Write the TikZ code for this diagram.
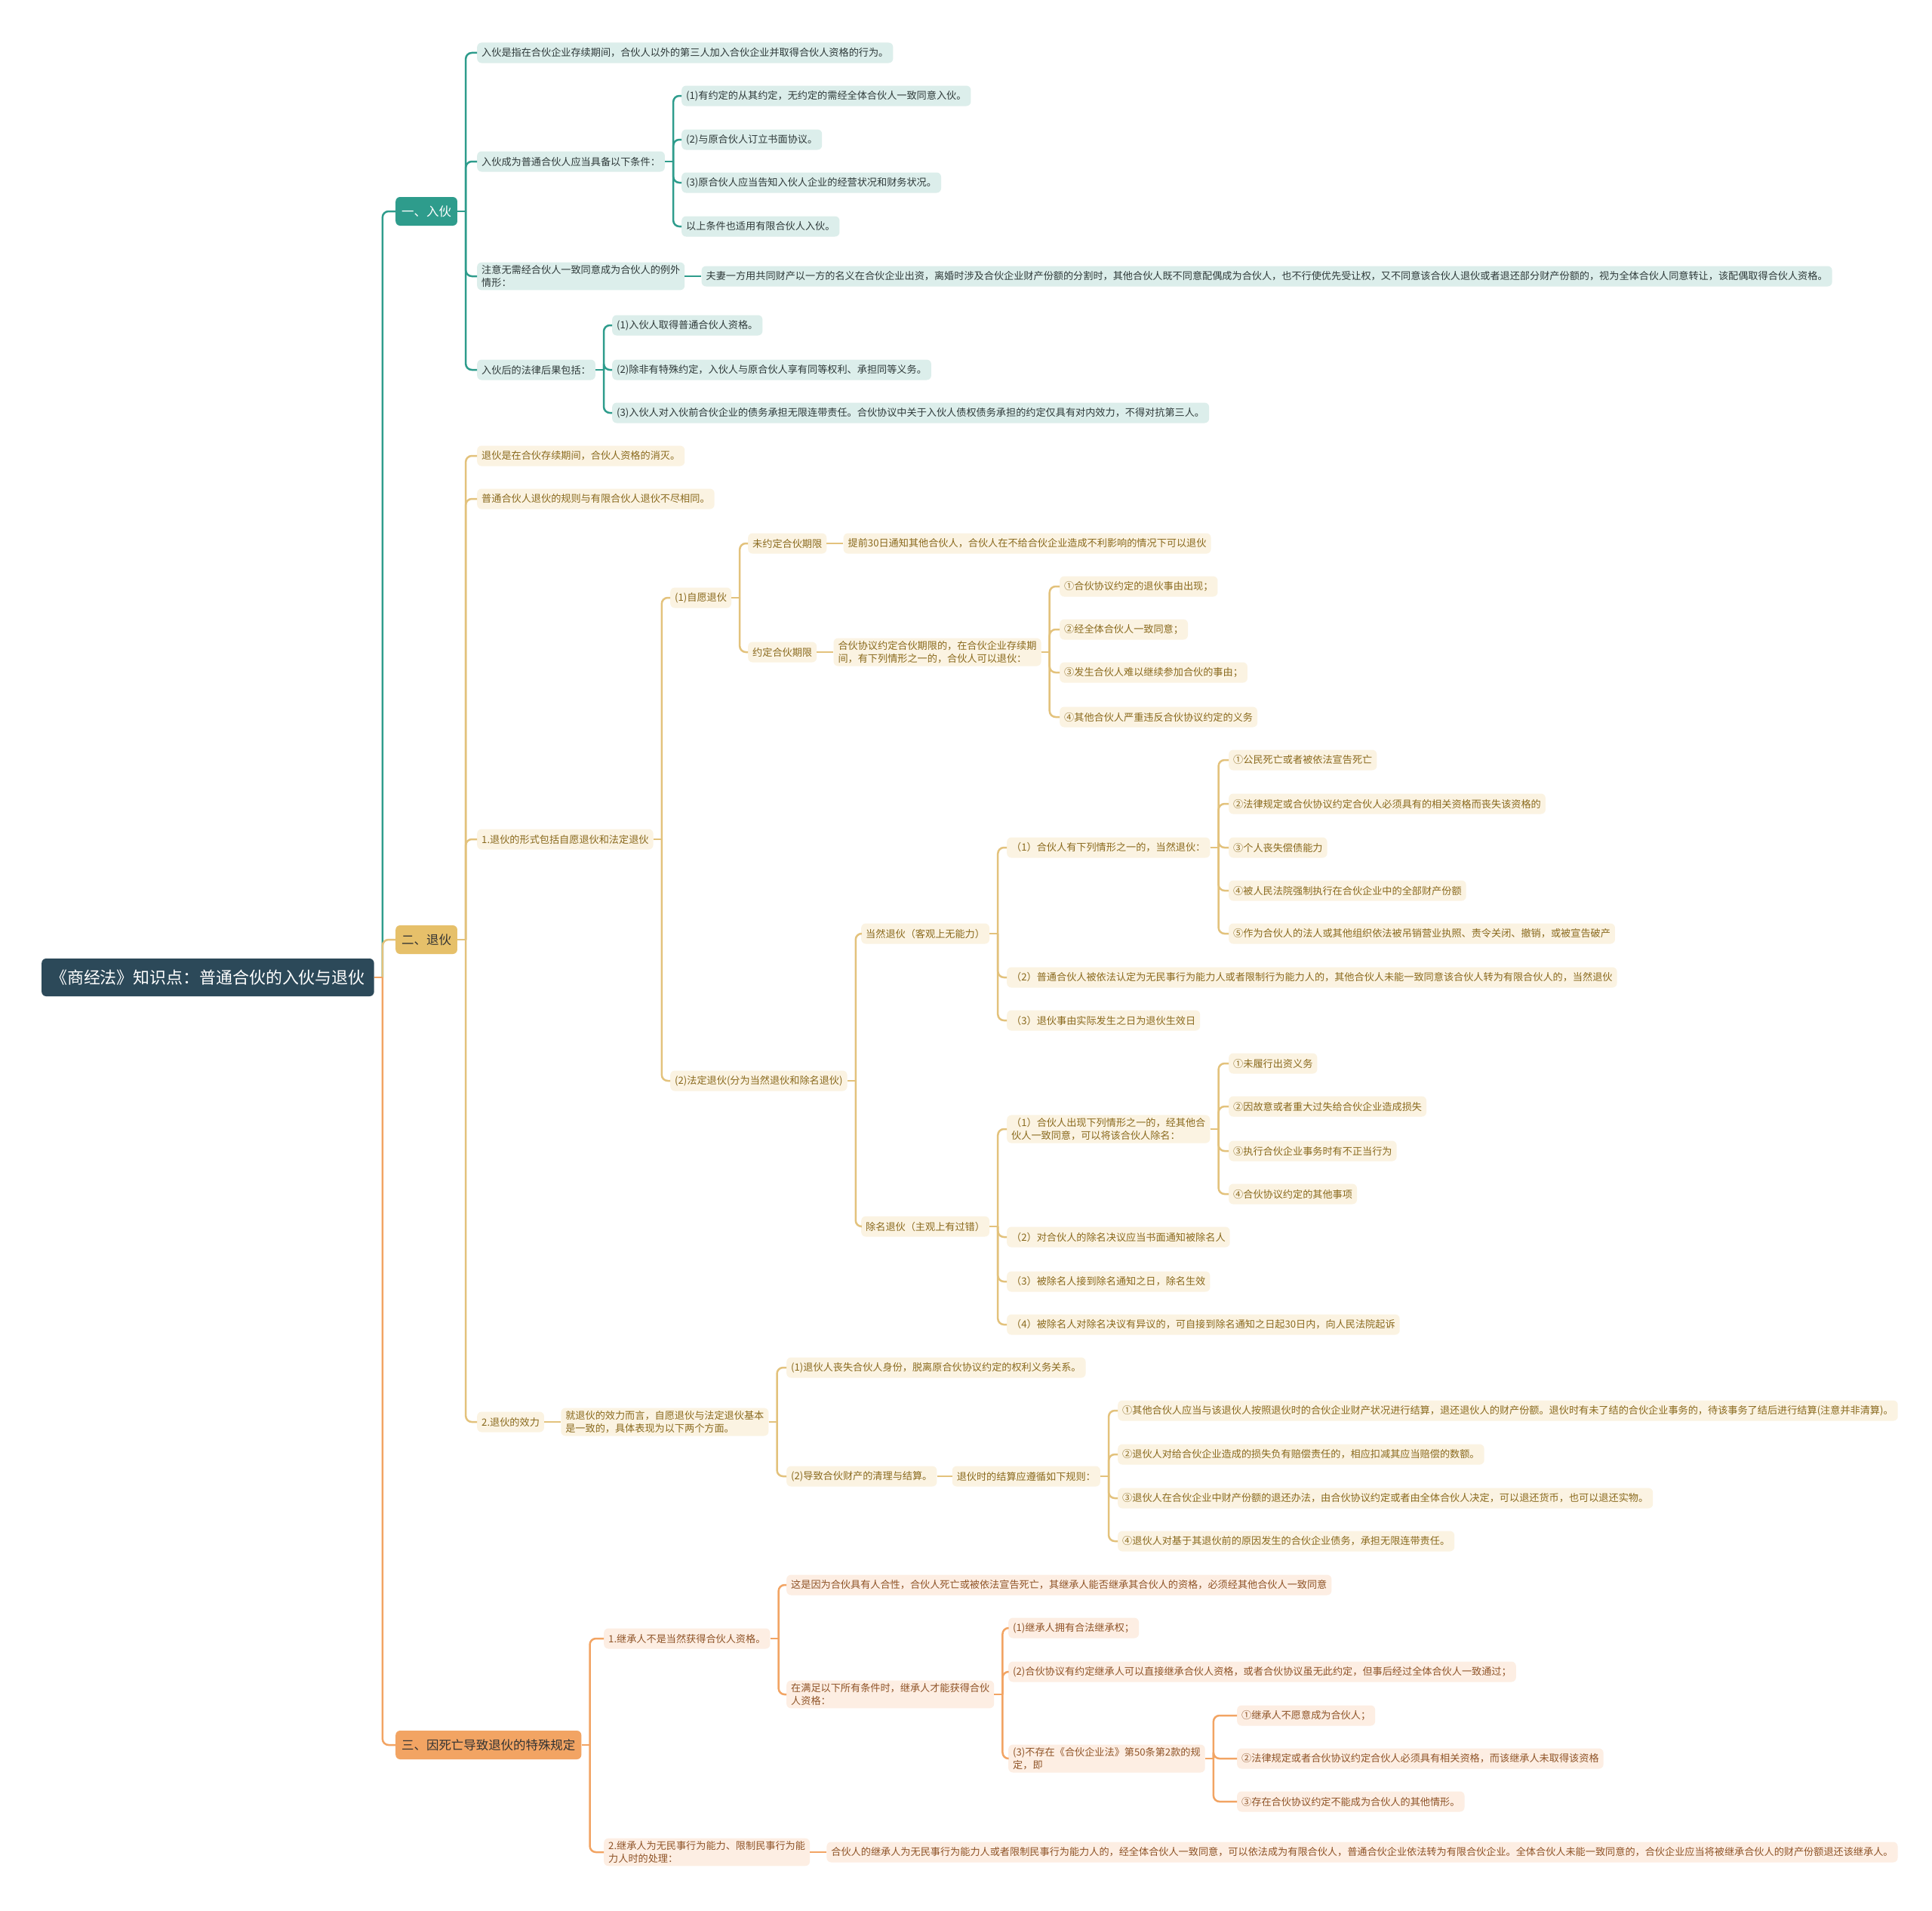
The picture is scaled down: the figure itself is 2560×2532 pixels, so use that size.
\documentclass[tikz,border=0pt]{standalone}
\usepackage{fontspec}
\newfontfamily\cjk{Noto Sans CJK SC}
\usetikzlibrary{positioning}
\definecolor{teal1}{HTML}{2E9C8C}
\definecolor{tealL}{HTML}{DCEEEB}
\definecolor{tealT}{HTML}{2F3A3A}
\definecolor{gold1}{HTML}{E6C06A}
\definecolor{goldLn}{HTML}{E3C27C}
\definecolor{goldL}{HTML}{FBF3E2}
\definecolor{goldT}{HTML}{8A6A1E}
\definecolor{org1}{HTML}{F2A463}
\definecolor{orgL}{HTML}{FDEEE3}
\definecolor{orgT}{HTML}{8F5428}
\definecolor{rootc}{HTML}{2C4959}
\tikzset{
 base/.style={font=\cjk\fontsize{13.2}{16.5}\selectfont, rounded corners=6bp, inner xsep=6bp, inner ysep=4bp, minimum height=27bp, anchor=west, align=left},
 tn/.style={base, fill=tealL, text=tealT},
 gn/.style={base, fill=goldL, text=goldT},
 on/.style={base, fill=orgL, text=orgT},
 lone/.style={font=\cjk\fontsize{16.5}{20}\selectfont, rounded corners=6bp, inner xsep=8bp, minimum height=38bp, anchor=west},
 rootbox/.style={font=\cjk\fontsize{22}{26}\selectfont, rounded corners=6bp, inner xsep=12bp, minimum height=50bp, anchor=west, fill=rootc, text=white},
 tl/.style={line width=2.5bp, draw=teal1},
 gl/.style={line width=2.5bp, draw=goldLn},
 ol/.style={line width=2.5bp, draw=org1},
}
\newcommand\lnk[3]{\foreach \c in {#3}{\draw[#1] (#2.east) -- ++(11bp,0) coordinate (tmp); \draw[#1,rounded corners=8bp] (tmp) |- (\c.west);}}
\begin{document}
\begin{tikzpicture}[x=1bp,y=-1bp]
\fill[white] (0,0) rectangle (2560,2532);
\useasboundingbox (0,0) rectangle (2560,2532);
% root and level 1
\node[rootbox] (root) at (55,1295) {《商经法》知识点：普通合伙的入伙与退伙};
\node[lone, fill=teal1, text=white] (n1) at (524,280) {一、入伙};
\node[lone, fill=gold1, text=black!80] (n2) at (524,1245) {二、退伙};
\node[lone, fill=org1, text=black!80] (n3) at (524,2312) {三、因死亡导致退伙的特殊规定};
% section 1
\node[tn] (a1) at (632,70) {入伙是指在合伙企业存续期间，合伙人以外的第三人加入合伙企业并取得合伙人资格的行为。};
\node[tn] (a2) at (632,214) {入伙成为普通合伙人应当具备以下条件：};
\node[tn] (a21) at (903,127) {(1)有约定的从其约定，无约定的需经全体合伙人一致同意入伙。};
\node[tn] (a22) at (903,185) {(2)与原合伙人订立书面协议。};
\node[tn] (a23) at (903,242) {(3)原合伙人应当告知入伙人企业的经营状况和财务状况。};
\node[tn] (a24) at (903,300) {以上条件也适用有限合伙人入伙。};
\node[tn] (a3) at (632,366) {注意无需经合伙人一致同意成为合伙人的例外\\情形：};
\node[tn, right=22bp of a3] (a31) {夫妻一方用共同财产以一方的名义在合伙企业出资，离婚时涉及合伙企业财产份额的分割时，其他合伙人既不同意配偶成为合伙人，也不行使优先受让权，又不同意该合伙人退伙或者退还部分财产份额的，视为全体合伙人同意转让，该配偶取得合伙人资格。};
\node[tn] (a4) at (632,490) {入伙后的法律后果包括：};
\node[tn] (a41) at (811,431) {(1)入伙人取得普通合伙人资格。};
\node[tn] (a42) at (811,490) {(2)除非有特殊约定，入伙人与原合伙人享有同等权利、承担同等义务。};
\node[tn] (a43) at (811,547) {(3)入伙人对入伙前合伙企业的债务承担无限连带责任。合伙协议中关于入伙人债权债务承担的约定仅具有对内效力，不得对抗第三人。};
% section 2
\node[gn] (b1) at (632,604) {退伙是在合伙存续期间，合伙人资格的消灭。};
\node[gn] (b2) at (632,661) {普通合伙人退伙的规则与有限合伙人退伙不尽相同。};
\node[gn] (b3) at (632,1112) {1.退伙的形式包括自愿退伙和法定退伙};
\node[gn] (b31) at (888,792) {(1)自愿退伙};
\node[gn] (b311) at (991,720) {未约定合伙期限};
\node[gn, right=22bp of b311] (b3111) {提前30日通知其他合伙人，合伙人在不给合伙企业造成不利影响的情况下可以退伙};
\node[gn] (b312) at (991,864) {约定合伙期限};
\node[gn, right=22bp of b312] (b3121) {合伙协议约定合伙期限的，在合伙企业存续期\\间，有下列情形之一的，合伙人可以退伙：};
\node[gn] (c1) at (1404,777) {①合伙协议约定的退伙事由出现；};
\node[gn] (c2) at (1404,834) {②经全体合伙人一致同意；};
\node[gn] (c3) at (1404,891) {③发生合伙人难以继续参加合伙的事由；};
\node[gn] (c4) at (1404,950) {④其他合伙人严重违反合伙协议约定的义务};
\node[gn] (b32) at (888,1432) {(2)法定退伙(分为当然退伙和除名退伙)};
\node[gn] (d1) at (1141,1237) {当然退伙（客观上无能力）};
\node[gn] (d11) at (1334,1123) {（1）合伙人有下列情形之一的，当然退伙：};
\node[gn] (e1) at (1628,1007) {①公民死亡或者被依法宣告死亡};
\node[gn] (e2) at (1628,1065) {②法律规定或合伙协议约定合伙人必须具有的相关资格而丧失该资格的};
\node[gn] (e3) at (1628,1123) {③个人丧失偿债能力};
\node[gn] (e4) at (1628,1180) {④被人民法院强制执行在合伙企业中的全部财产份额};
\node[gn] (e5) at (1628,1237) {⑤作为合伙人的法人或其他组织依法被吊销营业执照、责令关闭、撤销，或被宣告破产};
\node[gn] (d12) at (1334,1295) {（2）普通合伙人被依法认定为无民事行为能力人或者限制行为能力人的，其他合伙人未能一致同意该合伙人转为有限合伙人的，当然退伙};
\node[gn] (d13) at (1334,1352) {（3）退伙事由实际发生之日为退伙生效日};
\node[gn] (d2) at (1141,1625) {除名退伙（主观上有过错）};
\node[gn] (d21) at (1334,1496) {（1）合伙人出现下列情形之一的，经其他合\\伙人一致同意，可以将该合伙人除名：};
\node[gn] (f1) at (1628,1409) {①未履行出资义务};
\node[gn] (f2) at (1628,1466) {②因故意或者重大过失给合伙企业造成损失};
\node[gn] (f3) at (1628,1525) {③执行合伙企业事务时有不正当行为};
\node[gn] (f4) at (1628,1582) {④合伙协议约定的其他事项};
\node[gn] (d22) at (1334,1639) {（2）对合伙人的除名决议应当书面通知被除名人};
\node[gn] (d23) at (1334,1698) {（3）被除名人接到除名通知之日，除名生效};
\node[gn] (d24) at (1334,1755) {（4）被除名人对除名决议有异议的，可自接到除名通知之日起30日内，向人民法院起诉};
\node[gn] (b4) at (632,1884) {2.退伙的效力};
\node[gn, right=22bp of b4] (b41) {就退伙的效力而言，自愿退伙与法定退伙基本\\是一致的，具体表现为以下两个方面。};
\node[gn] (b411) at (1042,1812) {(1)退伙人丧失合伙人身份，脱离原合伙协议约定的权利义务关系。};
\node[gn] (b412) at (1042,1956) {(2)导致合伙财产的清理与结算。};
\node[gn, right=20bp of b412] (b4121) {退伙时的结算应遵循如下规则：};
\node[gn] (g1) at (1481,1869) {①其他合伙人应当与该退伙人按照退伙时的合伙企业财产状况进行结算，退还退伙人的财产份额。退伙时有未了结的合伙企业事务的，待该事务了结后进行结算(注意并非清算)。};
\node[gn] (g2) at (1481,1927) {②退伙人对给合伙企业造成的损失负有赔偿责任的，相应扣减其应当赔偿的数额。};
\node[gn] (g3) at (1481,1985) {③退伙人在合伙企业中财产份额的退还办法，由合伙协议约定或者由全体合伙人决定，可以退还货币，也可以退还实物。};
\node[gn] (g4) at (1481,2042) {④退伙人对基于其退伙前的原因发生的合伙企业债务，承担无限连带责任。};
% section 3
\node[on] (h1) at (800,2171) {1.继承人不是当然获得合伙人资格。};
\node[on] (h11) at (1042,2100) {这是因为合伙具有人合性，合伙人死亡或被依法宣告死亡，其继承人能否继承其合伙人的资格，必须经其他合伙人一致同意};
\node[on] (h12) at (1042,2245) {在满足以下所有条件时，继承人才能获得合伙\\人资格：};
\node[on] (h121) at (1336,2157) {(1)继承人拥有合法继承权；};
\node[on] (h122) at (1336,2215) {(2)合伙协议有约定继承人可以直接继承合伙人资格，或者合伙协议虽无此约定，但事后经过全体合伙人一致通过；};
\node[on] (h123) at (1336,2330) {(3)不存在《合伙企业法》第50条第2款的规\\定，即};
\node[on] (i1) at (1639,2273) {①继承人不愿意成为合伙人；};
\node[on] (i2) at (1639,2330) {②法律规定或者合伙协议约定合伙人必须具有相关资格，而该继承人未取得该资格};
\node[on] (i3) at (1639,2387) {③存在合伙协议约定不能成为合伙人的其他情形。};
\node[on] (h2) at (800,2454) {2.继承人为无民事行为能力、限制民事行为能\\力人时的处理：};
\node[on, right=22bp of h2] (h21) {合伙人的继承人为无民事行为能力人或者限制民事行为能力人的，经全体合伙人一致同意，可以依法成为有限合伙人，普通合伙企业依法转为有限合伙企业。全体合伙人未能一致同意的，合伙企业应当将被继承合伙人的财产份额退还该继承人。};
% connectors
\lnk{tl}{root}{n1}
\lnk{gl}{root}{n2}
\lnk{ol}{root}{n3}
\lnk{tl}{n1}{a1,a2,a3,a4}
\lnk{tl}{a2}{a21,a22,a23,a24}
\draw[tl] (a3) -- (a31);
\lnk{tl}{a4}{a41,a42,a43}
\lnk{gl}{n2}{b1,b2,b3,b4}
\lnk{gl}{b3}{b31,b32}
\lnk{gl}{b31}{b311,b312}
\draw[gl] (b311) -- (b3111);
\draw[gl] (b312) -- (b3121);
\lnk{gl}{b3121}{c1,c2,c3,c4}
\lnk{gl}{b32}{d1,d2}
\lnk{gl}{d1}{d11,d12,d13}
\lnk{gl}{d11}{e1,e2,e3,e4,e5}
\lnk{gl}{d2}{d21,d22,d23,d24}
\lnk{gl}{d21}{f1,f2,f3,f4}
\draw[gl] (b4) -- (b41);
\lnk{gl}{b41}{b411,b412}
\draw[gl] (b412) -- (b4121);
\lnk{gl}{b4121}{g1,g2,g3,g4}
\lnk{ol}{n3}{h1,h2}
\lnk{ol}{h1}{h11,h12}
\lnk{ol}{h12}{h121,h122,h123}
\lnk{ol}{h123}{i1,i2,i3}
\draw[ol] (h2) -- (h21);
\end{tikzpicture}
\end{document}
